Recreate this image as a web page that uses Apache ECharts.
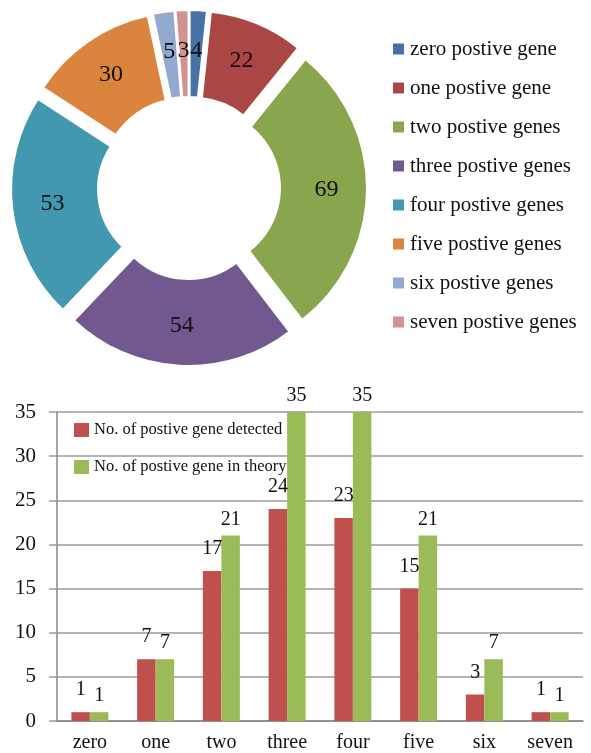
<!DOCTYPE html>
<html>
<head>
<meta charset="utf-8">
<script src="https://cdn.jsdelivr.net/npm/echarts@6/dist/echarts.min.js"></script>
<style>
  html, body { margin: 0; padding: 0; background: #fff; }
  #main { width: 591px; height: 753px; }
</style>
</head>
<body>
<div id="main"></div>
<script>
var pieNames = ['zero postive gene', 'one postive gene', 'two postive genes', 'three postive genes',
                'four postive genes', 'five postive genes', 'six postive genes', 'seven postive genes'];
var pieValues = [4, 22, 69, 54, 53, 30, 5, 3];
var pieColors = ['#4572A7', '#AA4643', '#89A54E', '#71588F', '#4198AF', '#DB843D', '#93A9CF', '#D19392'];

var barCats = ['zero', 'one', 'two', 'three', 'four', 'five', 'six', 'seven'];
var detected = [1, 7, 17, 24, 23, 15, 3, 1];
var theory = [1, 7, 21, 35, 35, 21, 7, 1];
var yTicks = [0, 5, 10, 15, 20, 25, 30, 35];

var serif = "'Liberation Serif', 'Times New Roman', serif";

var myChart = echarts.init(document.getElementById('main'));

// 饼图数据（每块都“爆炸”出去一点）
var pieData = pieNames.map(function (n, i) {
  return { name: n, value: pieValues[i], selected: true, itemStyle: { color: pieColors[i] } };
});

var option = {
  animation: false,
  textStyle: { fontFamily: serif },
  legend: [{
    data: pieNames,
    orient: 'vertical',
    left: 391,
    top: 37,
    padding: 0,
    itemWidth: 13,
    itemHeight: 13,
    itemGap: 15,
    selectedMode: false,
    icon: 'rect',
    textStyle: { fontFamily: serif, fontSize: 21, lineHeight: 24, color: '#111' }
  }, {
    data: ['No. of postive gene detected', 'No. of postive gene in theory'],
    orient: 'vertical',
    left: 74,
    top: 420,
    padding: 0,
    itemWidth: 15,
    itemHeight: 14,
    itemGap: 17,
    selectedMode: false,
    icon: 'rect',
    textStyle: { fontFamily: serif, fontSize: 16.5, lineHeight: 20, color: '#111' }
  }],
  grid: { left: 57, right: 8, top: 412, bottom: 30 },
  xAxis: {
    type: 'category',
    data: barCats,
    axisLine: { lineStyle: { color: '#868686', width: 1.5 } },
    axisTick: { length: 7, lineStyle: { color: '#868686', width: 1.5 } },
    axisLabel: { fontFamily: serif, fontSize: 20, color: '#111', margin: 12 }
  },
  yAxis: {
    type: 'value',
    min: yTicks[0],
    max: yTicks[yTicks.length - 1],
    interval: 5,
    axisLine: { show: true, lineStyle: { color: '#868686', width: 1.5 } },
    axisTick: { show: true, length: 8, lineStyle: { color: '#9a9a9a', width: 1.5 } },
    splitLine: { lineStyle: { color: '#9a9a9a', width: 1.5 } },
    axisLabel: { fontFamily: serif, fontSize: 21, color: '#111', margin: 21 }
  },
  series: [{
    type: 'pie',
    center: [189, 188],
    radius: [79, 166],
    startAngle: 90,
    clockwise: true,
    selectedMode: 'multiple',
    selectedOffset: 12,
    avoidLabelOverlap: false,
    itemStyle: { borderColor: '#fff', borderWidth: 2 },
    label: {
      show: true,
      position: 'inside',
      formatter: '{c}',
      fontFamily: serif,
      fontSize: 24,
      color: '#111'
    },
    labelLayout: { hideOverlap: false },
    labelLine: { show: false },
    emphasis: { disabled: true },
    data: pieData
  }, {
    name: 'No. of postive gene detected',
    type: 'bar',
    data: detected,
    barWidth: 18.5,
    barGap: '0%',
    itemStyle: { color: '#C0504D' },
    label: { show: true, position: 'top', distance: 12, fontFamily: serif, fontSize: 20, color: '#111' }
  }, {
    name: 'No. of postive gene in theory',
    type: 'bar',
    data: theory,
    barWidth: 18.5,
    barGap: '0%',
    itemStyle: { color: '#9BBB59' },
    label: { show: true, position: 'top', distance: 6, fontFamily: serif, fontSize: 20, color: '#111' }
  }]
};

myChart.setOption(option);
</script>
</body>
</html>
